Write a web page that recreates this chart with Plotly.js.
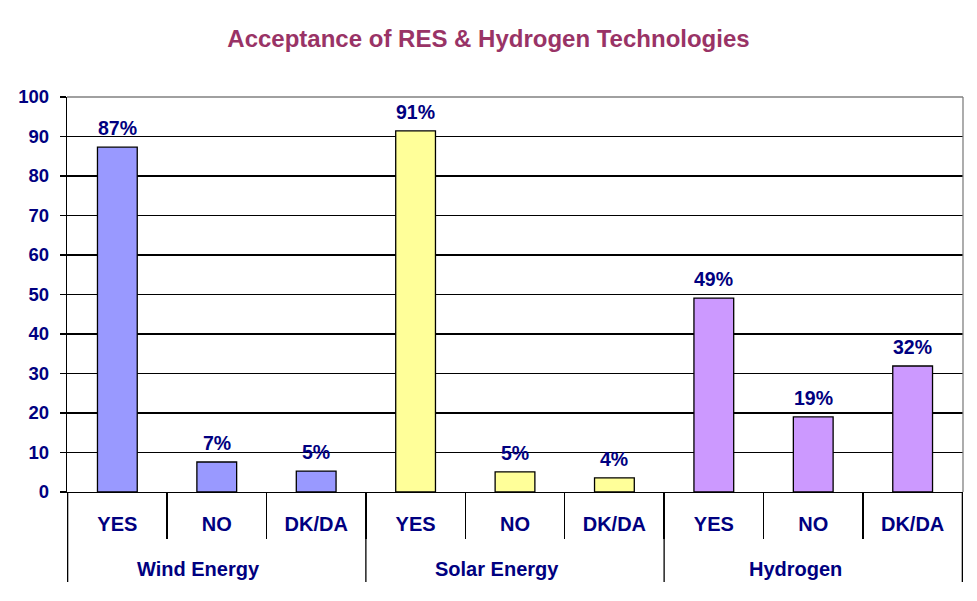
<!DOCTYPE html>
<html>
<head>
<meta charset="utf-8">
<script src="https://cdn.plot.ly/plotly-3.0.1.min.js"></script>
<style>html,body{margin:0;padding:0;background:#fff;}#chart{width:977px;height:601px;}</style>
</head>
<body>
<div id="chart"></div>
<script>
const groups = ["Wind Energy", "Solar Energy", "Hydrogen"];
const answers = ["YES", "NO", "DK/DA"];
const windValues = [87.3, 7.6, 5.3];
const solarValues = [91.4, 5.1, 3.6];
const hydrogenValues = [49.1, 19.0, 31.9];
const windLabels = ["87%", "7%", "5%"];
const solarLabels = ["91%", "5%", "4%"];
const hydrogenLabels = ["49%", "19%", "32%"];
const groupColors = ["#9999FF", "#FFFF99", "#CC99FF"];
const yTicks = [0, 10, 20, 30, 40, 50, 60, 70, 80, 90, 100];

const allValues = [windValues, solarValues, hydrogenValues];
const allLabels = [windLabels, solarLabels, hydrogenLabels];

const navy = "#000080";
const fontFam = "Liberation Sans, Arial, sans-serif";

const xKeys = [], xText = [], yVals = [], colors = [];
groups.forEach((g, gi) => {
  answers.forEach((a, ai) => {
    xKeys.push(g + "|" + a);
    xText.push(a);
    yVals.push(allValues[gi][ai]);
    colors.push(groupColors[gi]);
  });
});

const trace = {
  type: "bar",
  x: xKeys,
  y: yVals,
  width: 0.4,
  marker: {color: colors, line: {color: "#000000", width: 1.3}},
  hoverinfo: "none"
};

const annotations = [];
let idx = 0;
groups.forEach((g, gi) => {
  answers.forEach((a, ai) => {
    annotations.push({
      x: idx, y: allValues[gi][ai], xref: "x", yref: "y",
      text: "<b>" + allLabels[gi][ai] + "</b>",
      showarrow: false, yanchor: "bottom", yshift: 6,
      font: {family: fontFam, size: 19.5, color: navy}
    });
    idx++;
  });
});

// group labels and group dividers
const n = answers.length;
const shapes = [
  {type: "line", xref: "paper", yref: "paper", x0: 0, x1: 1, y0: 1, y1: 1,
   line: {color: "#808080", width: 1.3}, layer: "above"},
  {type: "line", xref: "paper", yref: "paper", x0: 1, x1: 1, y0: 0, y1: 1,
   line: {color: "#808080", width: 1.3}, layer: "above"}
];
groups.forEach((g, gi) => {
  annotations.push({
    x: gi * n + (n - 1) / 2, xref: "x", y: -0.195, yref: "paper",
    xshift: -18,
    text: "<b>" + g + "</b>", showarrow: false, yanchor: "middle",
    font: {family: fontFam, size: 20, color: navy}
  });
});
for (let gi = 0; gi <= groups.length; gi++) {
  shapes.push({
    type: "line", xref: "x", yref: "paper",
    x0: gi * n - 0.5, x1: gi * n - 0.5, y0: 0, y1: -0.228,
    line: {color: "#000000", width: 1.3}, layer: "above"
  });
}

const layout = {
  width: 977, height: 601,
  margin: {l: 67, r: 14, t: 97, b: 109},
  paper_bgcolor: "#ffffff", plot_bgcolor: "#ffffff",
  showlegend: false,
  title: {
    text: "<b>Acceptance of RES & Hydrogen Technologies</b>",
    x: 0.5, xref: "container", y: 0.935, yref: "container", yanchor: "middle",
    font: {family: fontFam, size: 24, color: "#993366"}
  },
  xaxis: {
    type: "category",
    tickmode: "array", tickvals: xKeys, ticktext: xText,
    showline: true, linecolor: "#000000", linewidth: 1.3,
    ticks: "outside", ticklen: 46, tickcolor: "#000000", tickwidth: 1.3,
    tickson: "boundaries",
    ticklabelstandoff: 14,
    tickfont: {family: fontFam, size: 20, color: navy, weight: "bold"},
    showgrid: false, fixedrange: true
  },
  yaxis: {
    range: [0, 100], tickvals: yTicks,
    showline: true, linecolor: "#000000", linewidth: 1.3,
    ticks: "outside", ticklen: 6, tickcolor: "#000000", tickwidth: 1.3,
    ticklabelstandoff: 7,
    showgrid: true, gridcolor: "#000000", gridwidth: 1.3,
    zeroline: false,
    tickfont: {family: fontFam, size: 18.5, color: navy, weight: "bold"},
    fixedrange: true
  },
  shapes: shapes,
  annotations: annotations
};

Plotly.newPlot("chart", [trace], layout, {displayModeBar: false, staticPlot: true});
</script>
</body>
</html>
